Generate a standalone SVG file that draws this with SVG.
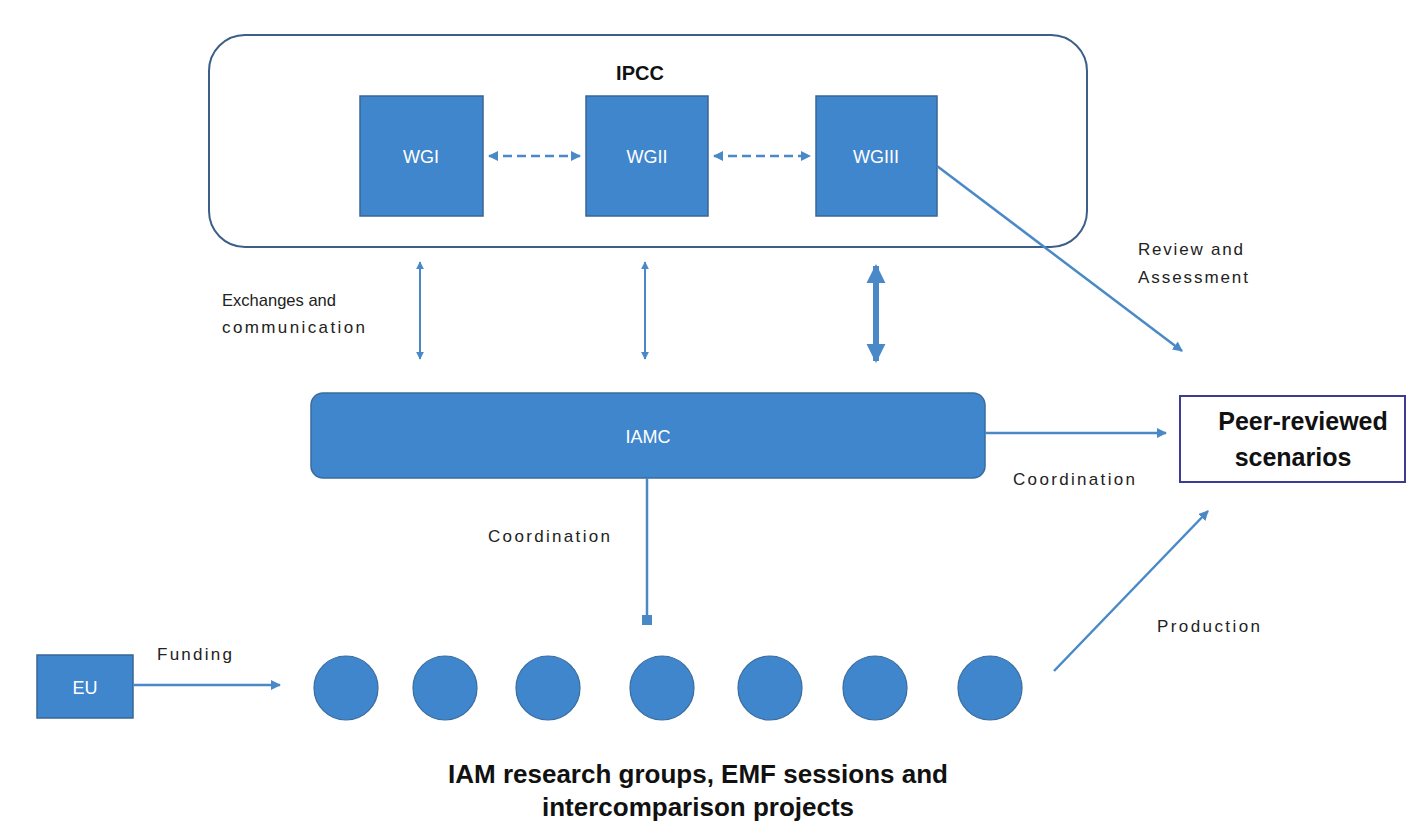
<svg xmlns="http://www.w3.org/2000/svg" width="1409" height="825" viewBox="0 0 1409 825">
  <style>
    .box { fill: #3f86cc; stroke: #3a6696; stroke-width: 1.5; }
    .dot { fill: #3f86cc; stroke: #3a6c9e; stroke-width: 1.2; }
    .wtxt { font-family: "Liberation Sans", Arial, sans-serif; fill: #ffffff; font-size: 18px; text-anchor: middle; }
    .lbl { font-family: "Liberation Sans", Arial, sans-serif; fill: #222222; font-size: 17px; }
    .big { font-family: "Liberation Sans", Arial, sans-serif; fill: #111111; font-weight: bold; text-anchor: middle; }
    .link { stroke: #4a89c8; fill: none; }
  </style>
  <defs>
    <marker id="head" viewBox="0 0 10 10" refX="9" refY="5" markerWidth="4" markerHeight="4" orient="auto-start-reverse">
      <path d="M0,0 L10,5 L0,10 z" fill="#4a89c8"/>
    </marker>
    <marker id="headBig" viewBox="0 0 10 10" refX="9" refY="5" markerWidth="3.2" markerHeight="3.6" orient="auto-start-reverse">
      <path d="M0,0 L10,5 L0,10 z" fill="#4a89c8"/>
    </marker>
    <marker id="square" viewBox="0 0 10 10" refX="5" refY="5" markerWidth="4" markerHeight="4" orient="auto">
      <rect x="0" y="0" width="10" height="10" fill="#4a89c8"/>
    </marker>
  </defs>

  <rect width="1409" height="825" fill="#ffffff"/>

  <!-- IPCC container -->
  <g id="ipcc">
    <rect x="209" y="35" width="878" height="212" rx="36" fill="#ffffff" stroke="#3b5f88" stroke-width="2"/>
    <text x="640" y="80" class="big" font-size="20">IPCC</text>
  </g>

  <g id="wg1">
    <rect class="box" x="360" y="96" width="123" height="120"/>
    <text class="wtxt" x="421" y="163">WGI</text>
  </g>
  <g id="wg2">
    <rect class="box" x="586" y="96" width="122" height="120"/>
    <text class="wtxt" x="647" y="163">WGII</text>
  </g>
  <g id="wg3">
    <rect class="box" x="816" y="96" width="121" height="120"/>
    <text class="wtxt" x="876" y="163">WGIII</text>
  </g>

  <g id="iamc">
    <rect x="311" y="393" width="674" height="85" rx="12" fill="#3f86cc" stroke="#3a6c9e" stroke-width="1.5"/>
    <text class="wtxt" x="648" y="443">IAMC</text>
  </g>

  <g id="peer-reviewed">
    <rect x="1180" y="396" width="225" height="86" fill="#ffffff" stroke="#3c3c96" stroke-width="2"/>
    <text class="big" x="1303" y="430" font-size="25">Peer-reviewed</text>
    <text class="big" x="1293" y="466" font-size="25">scenarios</text>
  </g>

  <g id="eu">
    <rect class="box" x="37" y="655" width="96" height="63"/>
    <text class="wtxt" x="85" y="694">EU</text>
  </g>

  <g id="groups">
    <circle class="dot" cx="346" cy="688" r="32"/>
    <circle class="dot" cx="445" cy="688" r="32"/>
    <circle class="dot" cx="548" cy="688" r="32"/>
    <circle class="dot" cx="662" cy="688" r="32"/>
    <circle class="dot" cx="770" cy="688" r="32"/>
    <circle class="dot" cx="875" cy="688" r="32"/>
    <circle class="dot" cx="990" cy="688" r="32"/>
    <text class="big" x="698" y="783" font-size="26">IAM research groups, EMF sessions and</text>
    <text class="big" x="698" y="816" font-size="26">intercomparison projects</text>
  </g>

  <!-- Connectors -->
  <g id="connectors">
    <line class="link" style="stroke-width:2.5" x1="489" y1="156" x2="580" y2="156" stroke-dasharray="9,5" marker-start="url(#head)" marker-end="url(#head)"/>
    <line class="link" style="stroke-width:2.5" x1="714" y1="156" x2="810" y2="156" stroke-dasharray="9,5" marker-start="url(#head)" marker-end="url(#head)"/>

    <line class="link" style="stroke-width:2" x1="420" y1="262" x2="420" y2="359" marker-start="url(#head)" marker-end="url(#head)"/>
    <line class="link" style="stroke-width:2" x1="645" y1="262" x2="645" y2="359" marker-start="url(#head)" marker-end="url(#head)"/>
    <line class="link" style="stroke-width:6" x1="876" y1="266" x2="876" y2="361" marker-start="url(#headBig)" marker-end="url(#headBig)"/>

    <line class="link" style="stroke-width:2.5" x1="937" y1="166" x2="1182" y2="351" marker-end="url(#head)"/>
    <line class="link" style="stroke-width:2.5" x1="985" y1="433" x2="1166" y2="433" marker-end="url(#head)"/>
    <line class="link" style="stroke-width:2.5" x1="647" y1="478" x2="647" y2="620" marker-end="url(#square)"/>
    <line class="link" style="stroke-width:2.5" x1="133" y1="685" x2="280" y2="685" marker-end="url(#head)"/>
    <line class="link" style="stroke-width:2.5" x1="1054" y1="671" x2="1208" y2="511" marker-end="url(#head)"/>
  </g>

  <!-- Connector labels -->
  <g id="labels">
    <text class="lbl" x="222" y="306" textLength="114" lengthAdjust="spacingAndGlyphs">Exchanges and</text>
    <text class="lbl" x="222" y="333" textLength="143" lengthAdjust="spacing">communication</text>
    <text class="lbl" x="1138" y="255" textLength="105" lengthAdjust="spacing">Review and</text>
    <text class="lbl" x="1138" y="283" textLength="110" lengthAdjust="spacing">Assessment</text>
    <text class="lbl" x="1013" y="485" textLength="122" lengthAdjust="spacing">Coordination</text>
    <text class="lbl" x="488" y="542" textLength="122" lengthAdjust="spacing">Coordination</text>
    <text class="lbl" x="157" y="660" textLength="75" lengthAdjust="spacing">Funding</text>
    <text class="lbl" x="1157" y="632" textLength="103" lengthAdjust="spacing">Production</text>
  </g>
</svg>
